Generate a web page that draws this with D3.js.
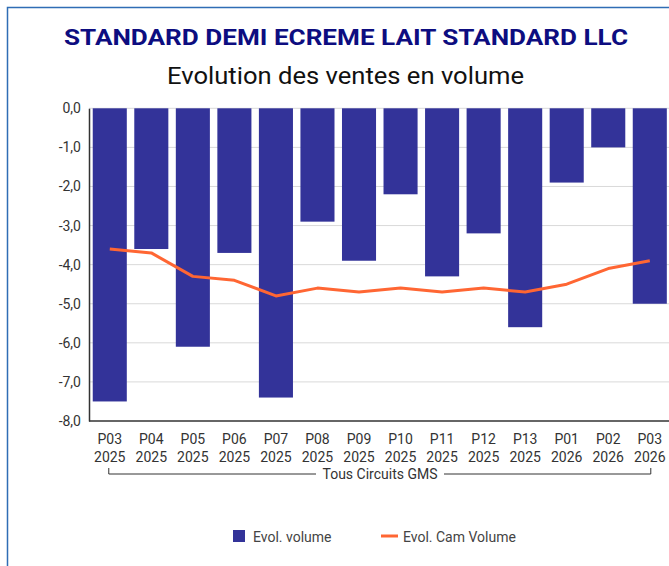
<!DOCTYPE html>
<html>
<head>
<meta charset="utf-8">
<script src="https://cdn.jsdelivr.net/npm/d3@7"></script>
<style>
  html, body { margin: 0; padding: 0; background: #fff; overflow: hidden; }
  svg { display: block; }
</style>
</head>
<body>
<svg id="chart" width="669" height="566"></svg>
<script>
// Periods (two-line labels: period / year)
const periods = ["P03", "P04", "P05", "P06", "P07", "P08", "P09", "P10", "P11", "P12", "P13", "P01", "P02", "P03"];
const years   = ["2025", "2025", "2025", "2025", "2025", "2025", "2025", "2025", "2025", "2025", "2025", "2026", "2026", "2026"];
// Evol. volume (%)
const evolVolume = [-7.5, -3.6, -6.1, -3.7, -7.4, -2.9, -3.9, -2.2, -4.3, -3.2, -5.6, -1.9, -1.0, -5.0];
// Evol. Cam Volume (%)
const evolCamVolume = [-3.6, -3.7, -4.3, -4.4, -4.8, -4.6, -4.7, -4.6, -4.7, -4.6, -4.7, -4.5, -4.1, -3.9];
// Y axis ticks
const yTicks = [0, -1, -2, -3, -4, -5, -6, -7, -8];

const barColor = "#333399";
const lineColor = "#ff6633";
const font = "Roboto, 'Noto Sans', sans-serif";

const svg = d3.select("#chart");

// Outer frame
svg.append("rect")
  .attr("x", 7.5).attr("y", 7.5)
  .attr("width", 700).attr("height", 600)
  .attr("fill", "none")
  .attr("stroke", "#2f6db5")
  .attr("stroke-width", 1.5);

// Titles
svg.append("text")
  .attr("x", 346).attr("y", 44.5)
  .attr("text-anchor", "middle")
  .attr("font-family", font)
  .attr("font-weight", "bold")
  .attr("font-size", 22)
  .attr("fill", "#0d0d80")
  .attr("textLength", 564)
  .attr("lengthAdjust", "spacingAndGlyphs")
  .text("STANDARD DEMI ECREME LAIT STANDARD LLC");

svg.append("text")
  .attr("x", 345.5).attr("y", 84)
  .attr("text-anchor", "middle")
  .attr("font-family", font)
  .attr("font-size", 23)
  .attr("fill", "#111")
  .attr("textLength", 357)
  .attr("lengthAdjust", "spacingAndGlyphs")
  .text("Evolution des ventes en volume");

const keys = periods.map((p, i) => i);
const plotLeft = 89, plotTop = 108.3, plotBottom = 421;
const step = 41.54;
const x = d3.scaleBand()
  .domain(keys)
  .range([plotLeft, plotLeft + step * periods.length])
  .paddingInner(0.18)
  .paddingOuter(0.09);
const y = d3.scaleLinear().domain([0, -8]).range([plotTop, plotBottom]);

// Gridlines
svg.append("g")
  .selectAll("line")
  .data(yTicks.filter(d => d !== -8))
  .join("line")
  .attr("x1", plotLeft).attr("x2", 669)
  .attr("y1", d => y(d)).attr("y2", d => y(d))
  .attr("stroke", "#d9d9d9")
  .attr("stroke-width", 1);

// Bars
svg.append("g")
  .selectAll("rect")
  .data(evolVolume)
  .join("rect")
  .attr("x", (d, i) => x(i))
  .attr("y", y(0))
  .attr("width", x.bandwidth())
  .attr("height", d => y(d) - y(0))
  .attr("fill", barColor);

// Line
const line = d3.line()
  .x((d, i) => x(i) + x.bandwidth() / 2)
  .y(d => y(d));
svg.append("path")
  .datum(evolCamVolume)
  .attr("d", line)
  .attr("fill", "none")
  .attr("stroke", lineColor)
  .attr("stroke-width", 3)
  .attr("stroke-linejoin", "round");

// Y axis
const yAxis = svg.append("g")
  .attr("transform", `translate(${plotLeft},0)`)
  .call(d3.axisLeft(y).tickValues(yTicks).tickSize(0).tickPadding(8)
    .tickFormat(d => d3.format(".1f")(d).replace("−", "-").replace(".", ",")));
yAxis.select(".domain").attr("stroke", "#333").attr("stroke-width", 1.5);
yAxis.selectAll("text")
  .attr("font-family", font)
  .attr("font-size", 14)
  .attr("fill", "#333");

// X axis baseline
svg.append("line")
  .attr("x1", plotLeft).attr("x2", 669)
  .attr("y1", plotBottom).attr("y2", plotBottom)
  .attr("stroke", "#333").attr("stroke-width", 1.5);

// X labels
const xl = svg.append("g");
xl.selectAll("text.p")
  .data(periods)
  .join("text")
  .attr("class", "p")
  .attr("x", (d, i) => x(i) + x.bandwidth() / 2)
  .attr("y", 444)
  .attr("text-anchor", "middle")
  .attr("font-family", font)
  .attr("font-size", 14)
  .attr("fill", "#333")
  .text(d => d);
xl.selectAll("text.yr")
  .data(years)
  .join("text")
  .attr("class", "yr")
  .attr("x", (d, i) => x(i) + x.bandwidth() / 2)
  .attr("y", 462)
  .attr("text-anchor", "middle")
  .attr("font-family", font)
  .attr("font-size", 14)
  .attr("fill", "#333")
  .text(d => d);

// Group bracket
const gx0 = x(0) + x.bandwidth() / 2 - 1;
const gx1 = x(periods.length - 1) + x.bandwidth() / 2 + 1;
const gy = 474;
const gLabel = "Tous Circuits GMS";
const gMid = 380;
const gHalf = 64;
svg.append("path")
  .attr("d", `M${gx0},${gy - 6}V${gy}H${gMid - gHalf}M${gMid + gHalf},${gy}H${gx1}V${gy - 6}`)
  .attr("fill", "none")
  .attr("stroke", "#333")
  .attr("stroke-width", 1);
svg.append("text")
  .attr("x", gMid).attr("y", gy + 5)
  .attr("text-anchor", "middle")
  .attr("font-family", font)
  .attr("font-size", 14)
  .attr("fill", "#333")
  .text(gLabel);

// Legend
const lg = svg.append("g");
lg.append("rect")
  .attr("x", 233).attr("y", 530)
  .attr("width", 12).attr("height", 12)
  .attr("fill", barColor);
lg.append("text")
  .attr("x", 253).attr("y", 542)
  .attr("font-family", font)
  .attr("font-size", 14)
  .attr("fill", "#444")
  .text("Evol. volume");
lg.append("line")
  .attr("x1", 381).attr("x2", 398)
  .attr("y1", 536).attr("y2", 536)
  .attr("stroke", lineColor)
  .attr("stroke-width", 3);
lg.append("text")
  .attr("x", 403).attr("y", 542)
  .attr("font-family", font)
  .attr("font-size", 14)
  .attr("fill", "#444")
  .text("Evol. Cam Volume");
</script>
</body>
</html>
